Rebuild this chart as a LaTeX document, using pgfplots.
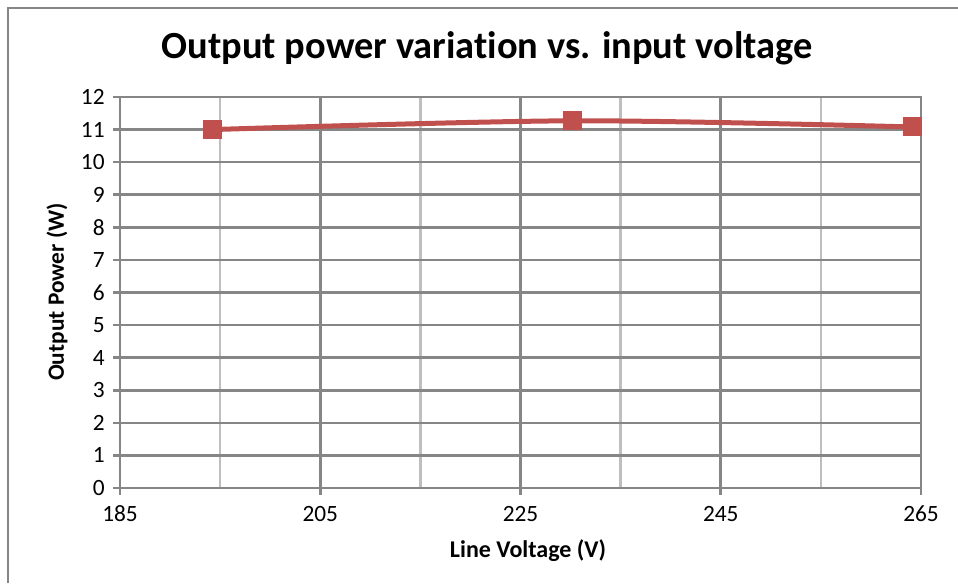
\documentclass[border=0pt]{standalone}
\usepackage{pgfplots}
\pgfplotsset{compat=1.18}
\usepackage{fontspec}
\setmainfont{Carlito}[Ligatures=NoCommon]
\definecolor{majg}{RGB}{134,134,134}
\definecolor{ming}{RGB}{190,190,190}
\definecolor{ser}{RGB}{192,80,77}
\begin{document}
\begin{tikzpicture}[x=0.75pt,y=0.75pt]
\useasboundingbox (0,0) rectangle (958,-583);
\draw[majg, line width=1.6pt] (8,-583) -- (8,-8) -- (958,-8);
\begin{axis}[at={(90pt,-366pt)}, anchor=south west, scale only axis,
  width=600.75pt, height=293.25pt,
  xmin=185, xmax=265, ymin=0, ymax=12,
  xtick={185,205,...,265}, minor xtick={195,215,...,255}, ytick={0,1,...,12},
  /pgf/number format/assume math mode=true,
  grid=both,
  major grid style={majg, line width=1.9pt},
  minor grid style={ming, line width=1.9pt},
  axis line style={majg, line width=1.9pt},
  tick style={majg, line width=1.9pt},
  major tick length=5pt, minor tick length=0pt,
  tick align=outside, xtick pos=bottom, ytick pos=left,
  tick label style={font=\fontsize{17.5}{20}\selectfont},
  xticklabel style={yshift=-5pt},
  yticklabel style={xshift=-3pt},
  clip=false,
]
\addplot[ser, line width=3.75pt, smooth, mark=square*, mark size=6.75pt,
  mark options={fill=ser, draw=ser, line width=0pt}]
  coordinates {(194.2,11.0) (230.2,11.27) (264.2,11.08)};
\end{axis}
\node[font=\bfseries\fontsize{28.8}{32}\selectfont] at (487,-48) {Output power variation vs. input voltage};
\node[font=\bfseries\fontsize{18}{22}\selectfont] at (528,-551) {Line Voltage (V)};
\node[font=\bfseries\fontsize{17.5}{22}\selectfont, rotate=90] at (57,-292) {Output Power (W)};
\end{tikzpicture}
\end{document}
